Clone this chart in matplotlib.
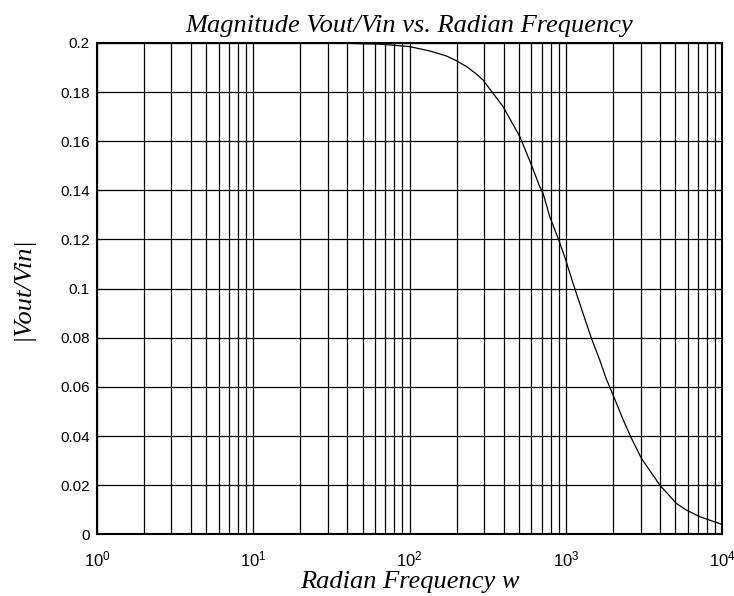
import numpy as np
import matplotlib
matplotlib.use('Agg')
import matplotlib.pyplot as plt

# values
freq = [36, 64.5, 100, 135, 172, 200, 231, 268, 295, 396, 507, 596, 680,
        714, 788, 900, 997, 1110, 1285, 1469, 1644, 1816, 2000, 2317, 2624,
        3040, 3981, 5082, 5890, 7167, 10000]
mag = [0.1999, 0.1995, 0.1985, 0.1967, 0.1947, 0.1927, 0.1904, 0.1873,
       0.1849, 0.1741, 0.1619, 0.1510, 0.1415, 0.1388, 0.1293, 0.1198,
       0.1117, 0.1022, 0.0900, 0.0791, 0.0710, 0.0631, 0.0568, 0.0468,
       0.0391, 0.0309, 0.0201, 0.0126, 0.0099, 0.0072, 0.0040]

y_ticks = [0, 0.02, 0.04, 0.06, 0.08, 0.1, 0.12, 0.14, 0.16, 0.18, 0.2]
y_tick_labels = ['0', '0.02', '0.04', '0.06', '0.08', '0.1', '0.12',
                 '0.14', '0.16', '0.18', '0.2']

plt.rcParams['font.family'] = 'Liberation Sans'
plt.rcParams['mathtext.fontset'] = 'custom'
plt.rcParams['mathtext.rm'] = 'Liberation Sans'

fig = plt.figure(figsize=(7.34, 5.96), dpi=100)
ax = fig.add_axes([0.132, 0.1035, 0.852, 0.8245])

ax.semilogx(freq, mag, color='black', linewidth=0.9)
ax.set_xlim(1, 1e4)
ax.set_ylim(0, 0.2)
ax.set_yticks(y_ticks)
ax.set_yticklabels(y_tick_labels)

ax.grid(True, which='both', axis='x', color='black', linewidth=0.9, linestyle='-')
ax.grid(True, which='major', axis='y', color='black', linewidth=0.9, linestyle='-')
ax.tick_params(which='both', direction='in', top=True, right=True)
ax.tick_params(axis='y', labelsize=11, pad=5)
ax.tick_params(axis='x', labelsize=12, pad=11)
for s in ax.spines.values():
    s.set_linewidth(1.5)

tfont = dict(family='Liberation Serif', style='italic', size=19)
ax.set_title('Magnitude Vout/Vin vs. Radian Frequency', pad=8, **tfont)
ax.set_xlabel('Radian Frequency w', labelpad=1, **tfont)
ax.set_ylabel('|Vout/Vin|', labelpad=19, **tfont)

fig.savefig('out.png', dpi=100)
